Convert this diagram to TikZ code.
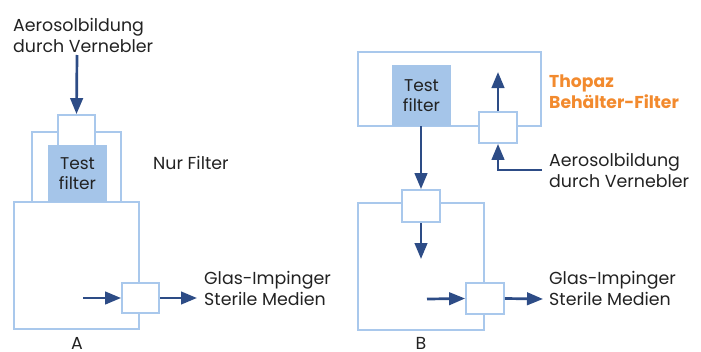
\documentclass[tikz,border=0pt]{standalone}
\usepackage{fontspec}
\setmainfont{Poppins}
\usetikzlibrary{arrows.meta}
\definecolor{frameblue}{HTML}{A9C8EC}
\definecolor{fillblue}{HTML}{A5C5E9}
\definecolor{arrowblue}{HTML}{2D4C86}
\definecolor{orangetxt}{HTML}{F28A2E}
\definecolor{txt}{HTML}{222222}
\begin{document}
\begin{tikzpicture}[x=1pt,y=-1pt,
 frame/.style={draw=frameblue,line width=1.8pt,inner sep=0pt},
 port/.style={draw=frameblue,line width=1.8pt,fill=white,inner sep=0pt},
 filterbox/.style={fill=fillblue,draw=none,text=txt,align=center,inner sep=0pt,font=\fontsize{17}{20}\selectfont},
 flow/.style={draw=arrowblue,line width=2.7pt,-{Triangle[length=16pt,width=12.5pt]}},
 lbl/.style={text=txt,align=left,inner sep=0pt,font=\fontsize{17.4}{21}\selectfont,anchor=west},
 hl/.style={text=orangetxt,align=left,inner sep=0pt,font=\fontsize{17.2}{21}\selectfont\bfseries,anchor=west},
]
\useasboundingbox (0,0) rectangle (701,351);
% ---------- A ----------
\node[frame,minimum width=89,minimum height=70] (frameA) at (76.5,167) {};
\node[frame,minimum width=125,minimum height=127] (bigA) at (76.5,265.5) {};
\node[port,minimum width=37,minimum height=31] (inA) at (76.5,130.5) {};
\node[filterbox,minimum width=59,minimum height=57] (filterA) at (77.5,173.5) {Test\\filter};
\node[port,minimum width=37,minimum height=30] (outA) at (140.5,298) {};
\coordinate (srcA) at (77,55);
\draw[flow] (srcA) -- (inA.north);
\coordinate (inflowA) at (83,298);
\coordinate (outflowA) at (197,298);
\draw[flow] (inflowA) -- (outA.west);
\draw[flow] (outA.east) -- (outflowA);
\node[lbl] (aeroA) at (13,35) {Aerosolbildung\\durch Vernebler};
\node[lbl] (nurA) at (153,163) {Nur Filter};
\node[lbl] (glasA) at (204,288) {Glas-Impinger\\Sterile Medien};
\node[text=txt,inner sep=0pt,font=\fontsize{17.4}{21}\selectfont,anchor=base] (labA) at (77,349.5) {A};
% ---------- B ----------
\node[frame,minimum width=183,minimum height=74] (frameB) at (449.5,89) {};
\node[filterbox,minimum width=59,minimum height=61] (filterB) at (421.5,95.5) {Test\\filter};
\node[port,minimum width=38,minimum height=31] (portB1) at (498,127.5) {};
\node[frame,minimum width=126,minimum height=127] (bigB) at (421,266.5) {};
\node[port,minimum width=38,minimum height=32] (portB2) at (421,206) {};
\node[port,minimum width=38,minimum height=31] (portB3) at (485,298.5) {};
\coordinate (upB) at (498,72);
\coordinate (srcB) at (542,170);
\coordinate (dnB) at (421,259);
\coordinate (inflowB) at (427,299);
\coordinate (outflowB) at (543,299);
\draw[flow] (portB1.north) -- (upB);
\draw[flow] (srcB) -| (portB1.south);
\draw[flow] (filterB.south -| portB2.north) -- (portB2.north);
\draw[flow] (portB2.south) -- (dnB);
\draw[flow] (inflowB) -- (portB3.west);
\draw[flow] (portB3.east) -- (outflowB);
\node[hl] (thopaz) at (549,92) {Thopaz\\Behälter-Filter};
\node[lbl] (aeroB) at (549,170) {Aerosolbildung\\durch Vernebler};
\node[lbl] (glasB) at (549,288) {Glas-Impinger\\Sterile Medien};
\node[text=txt,inner sep=0pt,font=\fontsize{17.4}{21}\selectfont,anchor=base] (labB) at (421,349.5) {B};
\end{tikzpicture}
\end{document}
